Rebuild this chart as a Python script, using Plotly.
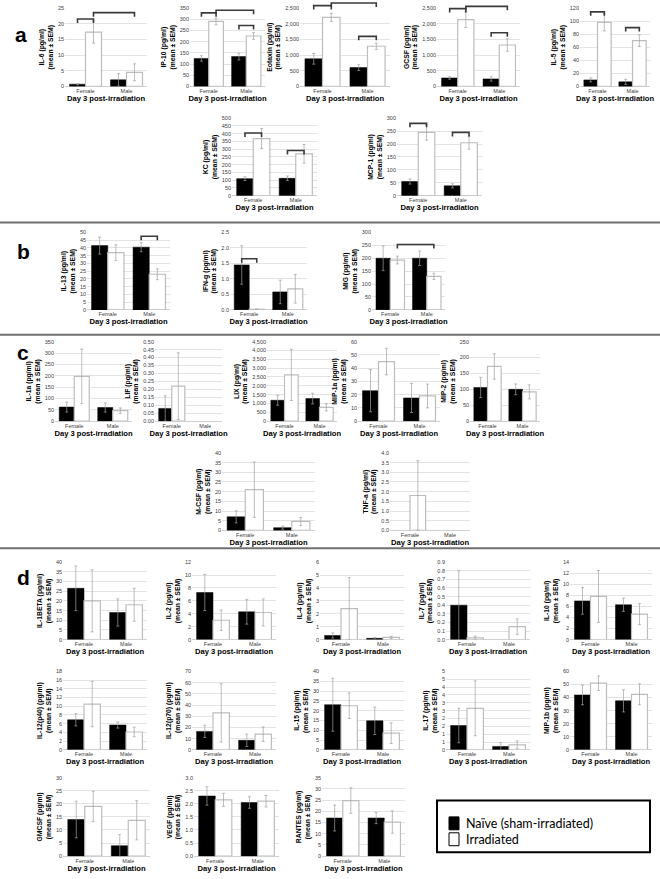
import plotly.graph_objects as go

# ---------------- data ----------------
sexes = ["Female", "Male"]
cytokines = ["IL-6", "IP-10", "Eotaxin", "GCSF", "IL-5", "KC", "MCP-1",
             "IL-13", "IFN-g", "MIG",
             "IL-1a", "LIF", "LIX", "MIP-1a", "MIP-2", "M-CSF", "TNF-a",
             "IL-1BETA", "IL-2", "IL-4", "IL-7", "IL-10",
             "IL-12(p40)", "IL-12(p70)", "IL-15", "IL-17", "MIP-1b",
             "GMCSF", "VEGF", "RANTES"]

naive_female = [0.7, 125, 880, 270, 10, 110, 55,
                41.5, 1.45, 200,
                62, 0.08, 1180, 23, 106, 7, None,
                26.5, 7.3, 0.32, 0.40, 7.0,
                6.9, 16.5, 23, 1.55, 42,
                14, 2.3, 17]
naive_female_sem = [0.2, 12, 170, 40, 3, 12, 10,
                    5.5, 0.62, 48,
                    22, 0.08, 280, 16, 32, 3.1, None,
                    11.5, 2.8, 0.2, 0.40, 2.4,
                    1.4, 5.5, 13.5, 1.1, 7.5,
                    7, 0.35, 5.8]
irr_female = [17.3, 290, 2200, 2130, 98, 368, 245,
              37, 0.02, 193,
              197, 0.22, 2620, 45, 172, 21, 1.8,
              20, 3.0, 2.4, 0.02, 7.8,
              10.5, 33, 22.5, 2.65, 51,
              19, 2.15, 24.8]
irr_female_sem = [3.5, 15, 130, 250, 13, 65, 30,
                  5, 0, 15,
                  120, 0.21, 1450, 10, 40, 14.3, 1.8,
                  16, 1.6, 2.4, 0.02, 4.7,
                  5.2, 26, 6.5, 1.75, 5.5,
                  5.8, 0.25, 5.7]
naive_male = [2.1, 133, 600, 240, 7, 112, 38,
              40.5, 0.58, 200,
              60, None, 1280, 17.5, 100, 1.4, None,
              14, 4.3, 0.1, None, 6.3,
              5.7, 8.5, 14.8, 0.22, 37.5,
              4, 2.05, 17]
naive_male_sem = [2.0, 15, 90, 70, 4, 15, 8,
                  3, 0.38, 28,
                  20, None, 300, 11, 17, 0.8, None,
                  7, 1.9, 0.08, None, 1.2,
                  0.7, 5.5, 7, 0.25, 8.5,
                  4.2, 0.22, 2.5]
irr_male = [4.5, 225, 1280, 1320, 70, 270, 205,
            23, 0.68, 130,
            46, None, 780, 19, 92, 4.6, None,
            18, 4.2, 0.17, 0.15, 4.6,
            4.1, 14, 8.5, 0.32, 42.5,
            13.7, 2.1, 15.2]
irr_male_sem = [2.7, 15, 100, 200, 9, 60, 25,
                3.5, 0.46, 12,
                12, None, 200, 9, 22, 2.1, None,
                8.5, 2.1, 0.1, 0.09, 1.9,
                1.1, 6.5, 5.3, 0.25, 8,
                7.5, 0.22, 5]

# y-axis ticks: max, step, format
y_max = [25, 350, 2500, 2500, 120, 500, 300,
         50, 2.5, 300,
         350, 0.5, 4500, 60, 250, 40, 4,
         40, 12, 6, 0.9, 14,
         18, 70, 40, 5, 60,
         30, 3, 35]
y_step = [5, 50, 500, 500, 20, 50, 50,
          5, 0.5, 50,
          50, 0.05, 500, 10, 50, 5, 0.5,
          5, 2, 1, 0.1, 2,
          2, 10, 5, 0.5, 10,
          5, 0.5, 5]
y_format = ["d", "d", ",d", ",d", "d", "d", "d",
            "d", ".1f", "d",
            "d", ".2f", ",d", "d", "d", "d", ".1f",
            "d", "d", "d", ".1f", "d",
            "d", "d", "d", "d", "d",
            "d", ".1f", "d"]
il17_ticks = [0, 0.5, 1, 1.5, 2, 2.5, 3, 3.5, 4, 4.5, 5]
il17_ticktext = ["0", "1", "1", "2", "2", "3", "3", "4", "4", "5", "5"]

# significance brackets: (cytokine, from bar, to bar, height)
brackets = [("IL-6", "FN", "FI", 21.5), ("IL-6", "FI", "MI", 23.5),
            ("IP-10", "FN", "FI", 328), ("IP-10", "FI", "MI", 340), ("IP-10", "MN", "MI", 272),
            ("Eotaxin", "FN", "FI", 2575), ("Eotaxin", "FI", "MI", 2660), ("Eotaxin", "MN", "MI", 1595),
            ("GCSF", "FN", "FI", 2480), ("GCSF", "FI", "MI", 2550), ("GCSF", "MN", "MI", 1710),
            ("IL-5", "FN", "FI", 114), ("IL-5", "MN", "MI", 90),
            ("KC", "FN", "FI", 405), ("KC", "MN", "MI", 292),
            ("MCP-1", "FN", "FI", 280), ("MCP-1", "MN", "MI", 245),
            ("IL-13", "MN", "MI", 47.5),
            ("IFN-g", "FN", "FI", 1.65),
            ("MIG", "FI", "MI", 253)]

section_letters = ["a", "b", "c", "d"]
legend_names = ["Naïve (sham-irradiated)", "Irradiated"]
x_title = "Day 3 post-irradiation"

# ---------------- layout (pixel boxes: x0, x1, top, bottom) ----------------
W, H = 660, 879
pos = {
    "IL-6": (65, 147, 5, 84), "IP-10": (190, 265, 5, 84), "Eotaxin": (300, 390, 5, 84),
    "GCSF": (437, 520, 5, 84), "IL-5": (580, 650, 5, 84),
    "KC": (232, 317, 116, 194), "MCP-1": (397, 482, 116, 194),
    "IL-13": (87, 170, 231, 309), "IFN-g": (230, 307, 231, 309), "MIG": (372, 445, 231, 309),
    "IL-1a": (55, 132, 341, 421), "LIF": (155, 222, 341, 421), "LIX": (267, 337, 341, 421),
    "MIP-1a": (358, 440, 341, 421), "MIP-2": (470, 540, 341, 421),
    "M-CSF": (222, 315, 453, 531), "TNF-a": (390, 470, 453, 531),
    "IL-1BETA": (63, 147, 563, 641), "IL-2": (192, 276, 563, 641), "IL-4": (320, 404, 563, 641),
    "IL-7": (446, 530, 563, 641), "IL-10": (570, 652, 563, 641),
    "IL-12(p40)": (63, 147, 673, 752), "IL-12(p70)": (192, 276, 673, 752), "IL-15": (320, 404, 673, 752),
    "IL-17": (446, 530, 673, 752), "MIP-1b": (570, 652, 673, 752),
    "GMCSF": (63, 150, 780, 859), "VEGF": (194, 279, 780, 859), "RANTES": (322, 405, 780, 859),
}
letter_pos = [(13, 18), (15, 237), (15, 352), (15, 578)]
separators = [221, 334, 549]
legend_box = (437, 650, 803, 855)

BARGAP = 0.22
half = (1 - BARGAP) / 4  # offset of each bar centre from category centre
bar_x = {"FN": 0 - half, "FI": 0 + half, "MN": 1 - half, "MI": 1 + half}

FONT = "Liberation Sans, Arial, sans-serif"
GRID = "#e3e3e3"
ERR = "#a0a0a0"
IRR_LINE = "#bdbdbd"

fig = go.Figure()
shapes = []

for i, name in enumerate(cytokines):
    k = i + 1
    sfx = "" if k == 1 else str(k)
    xa, ya = "x" + sfx, "y" + sfx
    x0, x1, t, b = pos[name]

    fig.add_trace(go.Bar(
        x=sexes, y=[naive_female[i], naive_male[i]],
        error_y=dict(type="data", array=[naive_female_sem[i], naive_male_sem[i]],
                     color=ERR, thickness=0.7, width=1.5),
        marker=dict(color="black", line=dict(color="black", width=0.5)),
        name=legend_names[0], showlegend=False,
        offsetgroup="n", xaxis=xa, yaxis=ya))
    fig.add_trace(go.Bar(
        x=sexes, y=[irr_female[i], irr_male[i]],
        error_y=dict(type="data", array=[irr_female_sem[i], irr_male_sem[i]],
                     color=ERR, thickness=0.7, width=1.5),
        marker=dict(color="white", line=dict(color=IRR_LINE, width=1.2)),
        name=legend_names[1], showlegend=False,
        offsetgroup="i", xaxis=xa, yaxis=ya))

    fig.layout["xaxis" + sfx] = dict(
        domain=[x0 / W, x1 / W], anchor=ya, range=[-0.5, 1.5],
        showgrid=False, zeroline=False, showline=False, ticks="",
        tickfont=dict(size=5.5, color="#404040", family=FONT),
        title=dict(text="<b>" + x_title + "</b>", font=dict(size=7.6, color="black", family=FONT),
                   standoff=1),
        fixedrange=True)
    yax = dict(
        domain=[1 - b / H, 1 - t / H], anchor=xa, range=[0, y_max[i]],
        dtick=y_step[i], tick0=0, tickformat=y_format[i],
        showgrid=True, gridcolor=GRID, gridwidth=0.8,
        zeroline=True, zerolinecolor="#d0d0d0", zerolinewidth=0.8,
        showline=False, ticks="",
        tickfont=dict(size=5.5, color="#404040", family=FONT),
        title=dict(text="<b>" + name + " (pg/ml)<br>(mean ± SEM)</b>",
                   font=dict(size=6.8, color="black", family=FONT), standoff=3),
        fixedrange=True)
    if name == "IL-17":
        yax.update(tickmode="array", tickvals=il17_ticks, ticktext=il17_ticktext)
    fig.layout["yaxis" + sfx] = yax

# brackets (drawn in axis-domain units so they may rise above the plot top)
for name, a, c, yv in brackets:
    k = cytokines.index(name) + 1
    sfx = "" if k == 1 else str(k)
    xa0 = (bar_x[a] + 0.5) / 2
    xa1 = (bar_x[c] + 0.5) / 2
    ymx = y_max[k - 1]
    yd = yv / ymx
    arm = 4 / (pos[name][3] - pos[name][2])
    shapes.append(dict(
        type="path", xref="x" + sfx + " domain", yref="y" + sfx + " domain",
        path=f"M{xa0},{yd - arm} L{xa0},{yd} L{xa1},{yd} L{xa1},{yd - arm}",
        line=dict(color="#3a3a3a", width=1.6)))

for ys in separators:
    shapes.append(dict(type="line", xref="paper", yref="paper", x0=0, x1=1,
                       y0=1 - ys / H, y1=1 - ys / H, line=dict(color="#707070", width=2)))

# legend key drawn as a framed box
lx0, lx1, lt, lb = legend_box
shapes.append(dict(type="rect", xref="paper", yref="paper",
                   x0=lx0 / W, x1=lx1 / W, y0=1 - lb / H, y1=1 - lt / H,
                   line=dict(color="black", width=2), fillcolor="rgba(0,0,0,0)"))
key_rows = [(826, "black"), (842, "white")]
annotations = []
for (cy, fill), label in zip(key_rows, legend_names):
    shapes.append(dict(type="rect", xref="paper", yref="paper",
                       x0=(lx0 + 12) / W, x1=(lx0 + 22) / W,
                       y0=1 - (cy + 6.5) / H, y1=1 - (cy - 6.5) / H,
                       line=dict(color="black", width=1), fillcolor=fill))
    annotations.append(dict(text=label, x=(lx0 + 27) / W, y=1 - cy / H,
                            xref="paper", yref="paper", xanchor="left", yanchor="middle",
                            showarrow=False,
                            font=dict(size=12.5, color="black", family="Lato, Liberation Sans, sans-serif")))

for letter, (lx, ly) in zip(section_letters, letter_pos):
    annotations.append(dict(text="<b>" + letter + "</b>", x=lx / W, y=1 - ly / H,
                            xref="paper", yref="paper", showarrow=False,
                            font=dict(size=21, color="black", family=FONT)))

fig.update_layout(
    width=W, height=H, margin=dict(l=0, r=0, t=0, b=0),
    paper_bgcolor="white", plot_bgcolor="white",
    barmode="group", bargap=BARGAP, bargroupgap=0,
    shapes=shapes, annotations=annotations,
    showlegend=False,
    font=dict(family=FONT),
)

fig.write_html("out.html", config={"displayModeBar": False},
               post_script="document.body.style.margin='0';")
